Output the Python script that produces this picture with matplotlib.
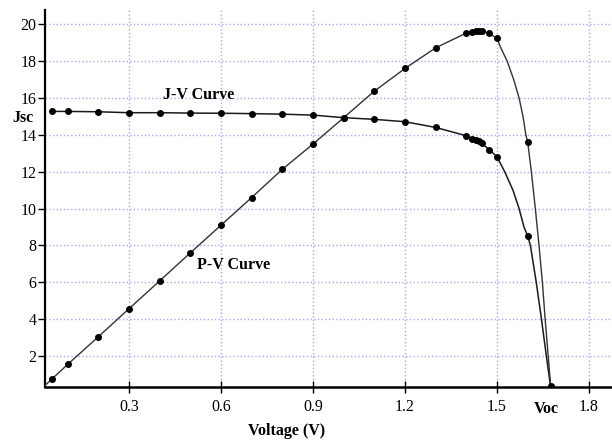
import numpy as np
import matplotlib
matplotlib.use("Agg")
import matplotlib.pyplot as plt

# data
# J-V curve, dotted points
jv_v = [0.05, 0.1, 0.2, 0.3, 0.4, 0.5, 0.6, 0.7, 0.8, 0.9, 1.0, 1.1, 1.2, 1.3,
        1.4, 1.42, 1.43, 1.44, 1.45, 1.475, 1.5, 1.6, 1.675]
jv_j = [15.27, 15.27, 15.25, 15.2, 15.2, 15.18, 15.17, 15.15, 15.12, 15.07, 14.93,
        14.84, 14.71, 14.4, 13.95, 13.8, 13.72, 13.64, 13.55, 13.19, 12.81, 8.51, 0.3]
# J-V curve trace on the steep drop (no dots)
jv_tail_v = [1.525, 1.552, 1.572, 1.588, 1.609, 1.628, 1.645, 1.661]
jv_tail_j = [12.0, 11.0, 10.0, 9.0, 8.0, 6.0, 4.0, 2.0]

# P-V curve, dotted points
pv_v = jv_v
pv_p = [0.78, 1.55, 3.05, 4.57, 6.08, 7.6, 9.1, 10.6, 12.13, 13.5, 14.93, 16.37,
        17.6, 18.72, 19.52, 19.6, 19.63, 19.64, 19.63, 19.5, 19.23, 13.62, 0.4]
# P-V curve trace (no dots)
pv_tail_v = [0.0, 1.511, 1.533, 1.555, 1.572, 1.585, 1.594, 1.612, 1.625,
             1.637, 1.648, 1.657, 1.667]
pv_tail_p = [0.0, 18.77, 18.0, 16.97, 16.0, 14.98, 14.0, 12.0, 10.0,
             8.0, 6.0, 4.0, 2.0]

x_ticks = [0.3, 0.6, 0.9, 1.2, 1.5, 1.8]
y_ticks = [2, 4, 6, 8, 10, 12, 14, 16, 18, 20]

serif = "Liberation Serif"

def merged(v1, y1, v2, y2):
    v = np.array(list(v1) + list(v2))
    y = np.array(list(y1) + list(y2))
    order = np.argsort(v)
    return v[order], y[order]

fig = plt.figure(figsize=(6.12, 4.41), dpi=100)
ax = fig.add_axes([45 / 612, 1 - 386.7 / 441, 1 - 45 / 612, (386.7 - 10) / 441])

ax.set_xlim(0.026, 1.875)
ax.set_ylim(0.34, 20.77)

# grid
ax.set_xticks(x_ticks)
ax.set_yticks(y_ticks)
ax.grid(True, color="#a8a8f0", linestyle=":", linewidth=1.0)
ax.set_axisbelow(True)

# curves
lv, lj = merged(jv_v, jv_j, jv_tail_v, jv_tail_j)
ax.plot(lv, lj, color="#1a1a1a", lw=1.1, zorder=3)
ax.plot(jv_v, jv_j, "o", color="black", ms=4, zorder=4)

pv, pp = merged(pv_v, pv_p, pv_tail_v, pv_tail_p)
ax.plot(pv, pp, color="#333333", lw=1.0, zorder=3)
ax.plot(pv_v, pv_p, "o", color="black", ms=4, zorder=4)

# spines and ticks
for s in ["top", "right"]:
    ax.spines[s].set_visible(False)
ax.spines["left"].set_linewidth(1.6)
ax.spines["bottom"].set_linewidth(1.8)
ax.tick_params(axis="y", direction="out", length=5, width=1, pad=1)
ax.tick_params(axis="x", direction="inout", length=9, width=1, pad=4)
ax.set_xticklabels([f"{t:.1f}" for t in x_ticks], fontfamily=serif, fontsize=11.5)
ax.set_yticklabels([str(t) for t in y_ticks], fontfamily=serif, fontsize=11.5)

# labels
bold = dict(fontfamily=serif, fontweight="bold", fontsize=11.5)
ax.text(0.411, 16.15, "J-V Curve", ha="left", va="center", **bold)
ax.text(0.522, 6.94, "P-V Curve", ha="left", va="center", **bold)
ax.text(-0.045, 14.9, "Jsc", ha="center", va="center", clip_on=False, **bold)
ax.text(1.662, -0.87, "Voc", ha="center", va="center", clip_on=False, **bold)
fig.text(287 / 612, 1 - 431 / 441, "Voltage (V)", ha="center", va="center", **bold)

fig.savefig("out.png", dpi=100)
